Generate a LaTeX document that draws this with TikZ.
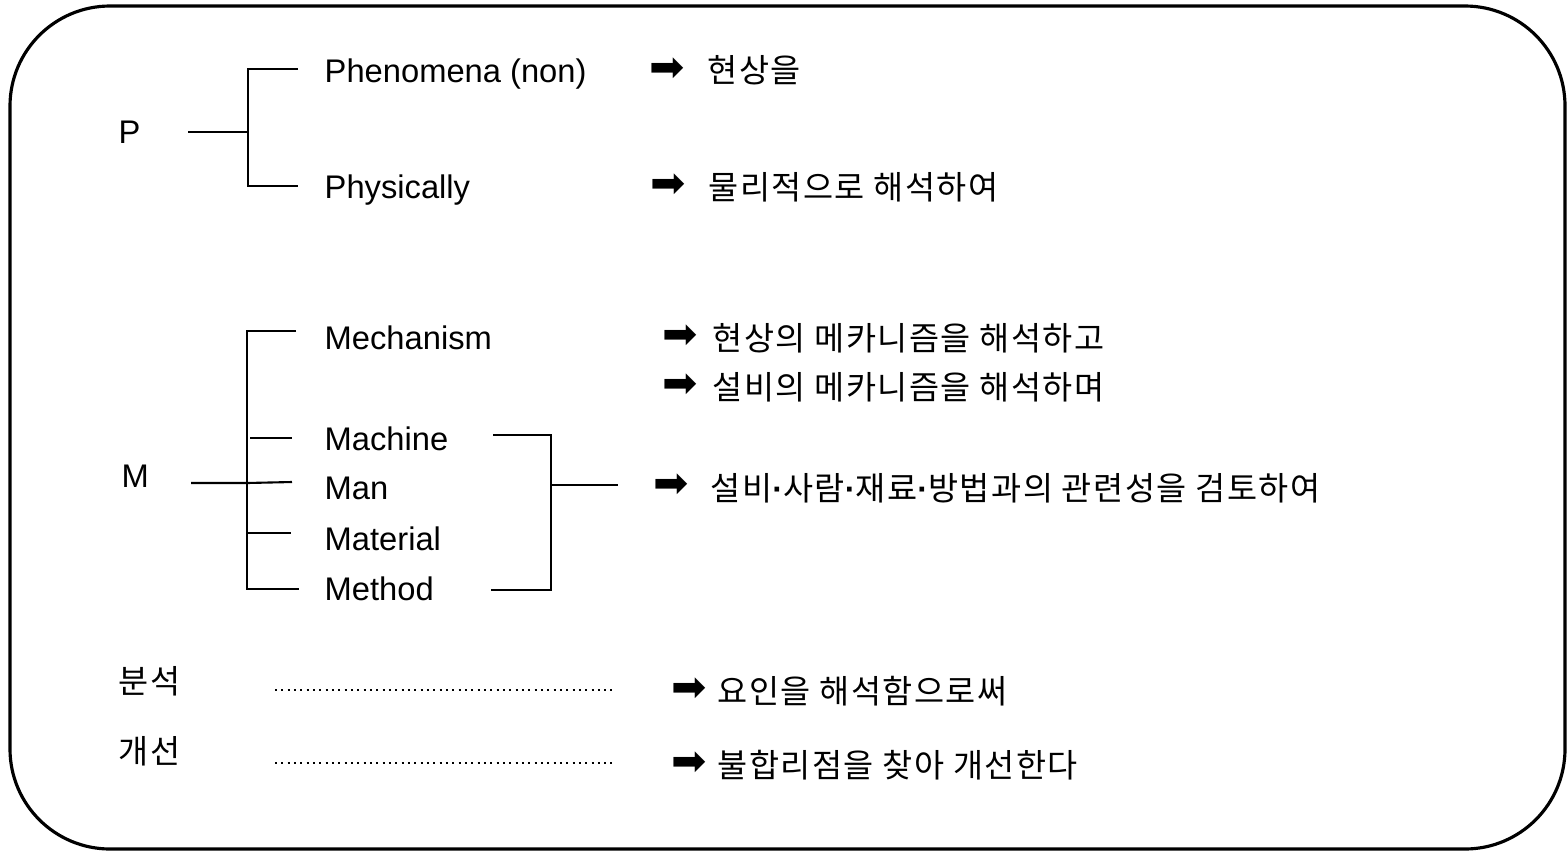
\documentclass[tikz,border=0pt]{standalone}
\usepackage{fontspec}
\setmainfont{Liberation Sans}
\newfontfamily\krfont[LetterSpace=4.5]{Noto Sans CJK KR}
\newfontfamily\dvfont{DejaVu Sans}
\newcommand{\krdot}{{\rmfamily\bfseries ·}}
\begin{document}
\begin{tikzpicture}[x=0.01cm,y=-0.01cm,
  lat/.style={anchor=base west,inner sep=0pt,font=\fontsize{9.3pt}{11pt}\selectfont},
  kor/.style={anchor=base west,inner sep=0pt,font=\krfont\fontsize{9.3pt}{11pt}\selectfont},
  arr/.style={anchor=center,inner sep=0pt,font=\dvfont\fontsize{12pt}{14pt}\selectfont},
  ln/.style={line width=0.6pt},
  dotln/.style={line width=0.6pt,dash pattern=on 0.57pt off 1.23pt}]
\useasboundingbox (0,0) rectangle (1567,851);
\draw[line width=0.9pt,rounded corners=1cm] (10,6) rectangle (1565,849);

% P block
\node[lat] (P) at (118,143) {P};
\coordinate (pa) at (188,132);
\coordinate (pb) at (248,132);
\coordinate (pt) at (248,69);
\coordinate (pbt) at (248,186);
\coordinate (pte) at (298,69);
\coordinate (pbe) at (298,186);
\draw[ln] (pa) -- (pb);
\draw[ln] (pte) -- (pt) -- (pbt) -- (pbe);
\node[lat] (phen) at (324,82) {Phenomena (non)};
\node[lat] (phys) at (324,198) {Physically};
\node[arr] (a1) at (667,70) {➡};
\node[kor] (k1) at (707,82) {현상을};
\node[arr] (a2) at (668,186) {➡};
\node[kor] (k2) at (708,199) {물리적으로 해석하여};

% M block
\node[lat] (M) at (121,487) {M};
\coordinate (ma) at (191,483);
\coordinate (mb) at (247,483);
\coordinate (mt) at (247,331);
\coordinate (mbt) at (247,589);
\coordinate (mte) at (296,331);
\coordinate (mbe) at (299,589);
\coordinate (m2a) at (250,438);
\coordinate (m2b) at (292,438);
\coordinate (m3b) at (292,482);
\coordinate (m4a) at (247,533);
\coordinate (m4b) at (291,533);
\draw[ln] (ma) -- (mb) -- (m3b);
\draw[ln] (mte) -- (mt) -- (mbt) -- (mbe);
\draw[ln] (m2a) -- (m2b);
\draw[ln] (m4a) -- (m4b);
\node[lat] (mech) at (324,349) {Mechanism};
\node[lat] (mach) at (324,450) {Machine};
\node[lat] (man) at (324,499) {Man};
\node[lat] (mat) at (324,550) {Material};
\node[lat] (meth) at (324,600) {Method};

\coordinate (ba) at (493,435);
\coordinate (bb) at (551,435);
\coordinate (bc) at (551,590);
\coordinate (bd) at (491,590);
\coordinate (bm) at (551,485);
\coordinate (be) at (618,485);
\draw[ln] (ba) -- (bb) -- (bc) -- (bd);
\draw[ln] (bm) -- (be);

\node[arr] (a3) at (680,337) {➡};
\node[kor] (k3) at (712,350) {현상의 메카니즘을 해석하고};
\node[arr] (a4) at (680,386) {➡};
\node[kor] (k4) at (712,399) {설비의 메카니즘을 해석하며};
\node[arr] (a5) at (671,486) {➡};
\node[kor] (k5) at (710,500) {설비\krdot 사람\krdot 재료\krdot 방법과의 관련성을 검토하여};

% bottom rows
\node[kor] (bun) at (118,693) {분석};
\node[kor] (gae) at (118,763) {개선};
\coordinate (d1a) at (275,690);
\coordinate (d1b) at (613,690);
\coordinate (d2a) at (275,763);
\coordinate (d2b) at (613,763);
\draw[dotln] (d1a) -- (d1b);
\draw[dotln] (d2a) -- (d2b);
\node[arr] (a6) at (689,690) {➡};
\node[kor] (k6) at (717,703) {요인을 해석함으로써};
\node[arr] (a7) at (689,764) {➡};
\node[kor] (k7) at (717,777) {불합리점을 찾아 개선한다};
\end{tikzpicture}
\end{document}
